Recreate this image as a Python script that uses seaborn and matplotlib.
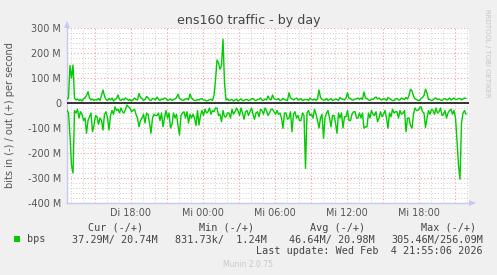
import numpy as np
import pandas as pd
import matplotlib
matplotlib.use("Agg")
import matplotlib.pyplot as plt
import seaborn as sns
from matplotlib.patches import Rectangle, Polygon

sns.set_theme(style="white")
plt.rcParams['font.family'] = ['DejaVu Sans']

# ---------------- data ----------------
title = "ens160 traffic - by day"
ylabel = "bits in (-) / out (+) per second"
series_name = "bps"
start_hour = -11.333          # hours relative to Wed 00:00 (Tue 12:40)
step_hours = 0.125            # 7.5-minute samples
end_hour = 22.167

out_mbps = [16, 20, 150, 100, 152, 20, 12, 16, 10, 14, 8, 16, 22, 30, 45, 20, 12, 16, 10, 14,
            12, 18, 10, 30, 52, 28, 14, 10, 18, 12, 20, 8, 14, 18, 32, 14, 10, 16, 12, 20,
            16, 10, 14, 8, 12, 20, 14, 12, 38, 22, 18, 10, 14, 26, 22, 12, 10, 18, 16, 12,
            24, 14, 10, 16, 14, 20, 18, 10, 12, 16, 10, 14, 16, 22, 35, 18, 14, 10, 12, 16,
            18, 12, 36, 20, 14, 10, 10, 14, 12, 16, 18, 12, 12, 8, 10, 14, 14, 10, 30, 90,
            172, 160, 135, 150, 255, 80, 12, 16, 10, 12, 14, 8, 12, 16, 8, 12, 16, 10, 10, 14,
            14, 10, 12, 16, 18, 12, 10, 14, 14, 20, 12, 10, 16, 12, 28, 16, 12, 32, 18, 14,
            14, 18, 10, 12, 18, 14, 12, 10, 41, 20, 16, 12, 16, 20, 12, 14, 18, 10, 12, 14,
            14, 10, 20, 14, 12, 16, 10, 16, 52, 22, 14, 12, 12, 18, 10, 14, 18, 10, 12, 16,
            14, 10, 22, 16, 16, 12, 20, 41, 18, 18, 12, 12, 16, 16, 20, 14, 20, 14, 44, 20,
            18, 12, 10, 16, 14, 20, 24, 16, 20, 14, 12, 18, 16, 10, 22, 18, 14, 10, 10, 16,
            18, 12, 12, 20, 16, 14, 22, 16, 30, 55, 48, 28, 16, 14, 10, 10, 18, 22, 30, 55,
            40, 14, 14, 10, 12, 18, 20, 14, 16, 12, 10, 16, 18, 12, 14, 20, 12, 16, 20, 14,
            14, 18, 18, 12, 16, 20, 18]

in_mbps = [28, 40, 130, 250, 280, 30, 40, 25, 60, 35, 45, 70, 60, 121, 70, 55, 40, 115, 90, 50,
           55, 85, 60, 70, 108, 45, 35, 60, 108, 50, 30, 45, 15, 30, 25, 40, 20, 35, 40, 25,
           8, 15, 20, 35, 30, 25, 45, 60, 95, 70, 60, 45, 80, 40, 45, 80, 121, 60, 45, 50,
           50, 40, 70, 40, 95, 60, 30, 60, 40, 100, 85, 40, 60, 45, 90, 128, 50, 40, 35, 60,
           35, 80, 45, 60, 45, 60, 90, 30, 88, 50, 30, 50, 25, 40, 35, 20, 45, 30, 35, 20,
           20, 50, 45, 75, 30, 55, 55, 40, 40, 60, 25, 45, 35, 20, 30, 50, 20, 40, 65, 35,
           30, 50, 35, 20, 45, 65, 40, 35, 55, 25, 30, 45, 20, 30, 50, 40, 25, 25, 35, 45,
           30, 45, 40, 60, 101, 40, 40, 65, 60, 35, 115, 45, 35, 60, 50, 70, 70, 40, 50, 261,
           40, 30, 50, 45, 60, 25, 45, 70, 100, 60, 45, 141, 60, 40, 30, 60, 95, 50, 50, 80,
           121, 40, 60, 40, 100, 55, 55, 30, 70, 70, 45, 35, 35, 60, 60, 40, 60, 40, 101, 95,
           95, 40, 60, 30, 45, 50, 35, 75, 60, 35, 55, 45, 30, 60, 101, 40, 55, 25, 40, 35,
           35, 60, 30, 45, 40, 30, 115, 60, 60, 90, 101, 45, 20, 30, 30, 20, 15, 35, 40, 98,
           60, 30, 45, 25, 30, 45, 20, 40, 35, 20, 50, 45, 30, 60, 40, 30, 25, 45, 30, 60,
           150, 250, 305, 80, 40, 30, 45]

ytick_values = [300, 200, 100, 0, -100, -200, -300, -400]
ytick_labels = ["300 M", "200 M", "100 M", "0", "-100 M", "-200 M", "-300 M", "-400 M"]
xtick_hours = [-6, 0, 6, 12, 18]
xtick_labels = ["Di 18:00", "Mi 00:00", "Mi 06:00", "Mi 12:00", "Mi 18:00"]

legend_headers = ["Cur (-/+)", "Min (-/+)", "Avg (-/+)", "Max (-/+)"]
legend_values = ["37.29M/ 20.74M", "831.73k/  1.24M", "46.64M/ 20.98M", "305.46M/256.09M"]
last_update = "Last update: Wed Feb  4 21:55:06 2026"
watermark = "RRDTOOL / TOBI OETIKER"
footer = "Munin 2.0.75"

# ---------------- figure ----------------
W, H = 497, 275
GREEN = "#00CC00"
fig = plt.figure(figsize=(W / 100, H / 100), dpi=100, facecolor="#F0F0F0")


def fx(px):
    return px / W


def fy(py):
    return 1 - py / H


ax = fig.add_axes([fx(67), fy(203), (469 - 67) / W, (203 - 28) / H])
ax.set_facecolor("white")

n = len(out_mbps)
hours = start_hour + step_hours * np.arange(n)
df = pd.DataFrame({"hour": hours,
                   "out": np.array(out_mbps, dtype=float),
                   "in": -np.array(in_mbps, dtype=float)})

sns.lineplot(data=df, x="hour", y="out", color=GREEN, linewidth=1.0, ax=ax, zorder=4)
sns.lineplot(data=df, x="hour", y="in", color=GREEN, linewidth=1.0, ax=ax, zorder=4)
ax.axhline(0, color="black", linewidth=1.1, zorder=5)

ax.set_xlim(start_hour, end_hour)
ax.set_ylim(-400, 300)

# ticks & grid
major_x = np.arange(-9, 22, 3)
ax.set_xticks(major_x)
ax.set_xticklabels([xtick_labels[xtick_hours.index(h)] if h in xtick_hours else "" for h in major_x])
ax.set_xticks(np.arange(-11, 23, 1), minor=True)
ax.set_yticks(ytick_values)
ax.set_yticklabels(ytick_labels)
ax.set_yticks(np.arange(-400, 301, 20), minor=True)

ax.set_axisbelow(True)
ax.grid(which="minor", color="#d0d0d0", linestyle=(0, (1, 2)), linewidth=0.7)
ax.grid(which="major", color="#f0a0a0", linestyle=(0, (1, 2)), linewidth=0.8)

ax.tick_params(axis="both", which="both", length=0)
ax.tick_params(axis="y", labelsize=6.9, labelcolor="#555555", pad=4.3)
ax.tick_params(axis="x", labelsize=6.9, labelcolor="#555555", pad=3.4)
ax.set_xlabel("")
ax.set_ylabel("")

for s in ["top", "right"]:
    ax.spines[s].set_visible(False)
for s in ["left", "bottom"]:
    ax.spines[s].set_color("#c8c8f0")
    ax.spines[s].set_linewidth(1.0)

# axis arrows
fig.patches.append(Polygon([(fx(64), fy(28)), (fx(70), fy(28)), (fx(67), fy(21))],
                           closed=True, facecolor="#c8c8f0", edgecolor="none",
                           transform=fig.transFigure, figure=fig))
fig.patches.append(Polygon([(fx(469), fy(200)), (fx(469), fy(206)), (fx(476), fy(203))],
                           closed=True, facecolor="#c8c8f0", edgecolor="none",
                           transform=fig.transFigure, figure=fig))

# texts
fig.text(fx(248.5), fy(24), title, ha="center", va="baseline", fontsize=9.1, color="#444444")
fig.text(fx(10), fy(115.5), ylabel, rotation=90, ha="center", va="center",
         fontsize=7.0, color="#555555")
fig.text(fx(487.5), fy(53), watermark, rotation=270, ha="center", va="center",
         fontsize=5.0, color="#c4c4c4")

mono = "DejaVu Sans Mono"
header_centers = [116, 227, 338, 449]
for hdr, cx in zip(legend_headers, header_centers):
    fig.text(fx(cx), fy(228), hdr, ha="center", va="center", fontsize=7.3,
             family=mono, color="#444444")

fig.patches.append(Rectangle((fx(14), fy(242.3)), 6 / W, 6 / H, facecolor=GREEN,
                             edgecolor="none", transform=fig.transFigure, figure=fig))
fig.text(fx(27), fy(239.5), series_name, ha="left", va="center", fontsize=7.3,
         family=mono, color="#444444")
value_rights = [158, 267, 375, 483]
for val, rx in zip(legend_values, value_rights):
    fig.text(fx(rx), fy(239.5), val, ha="right", va="center", fontsize=7.3,
             family=mono, color="#444444")
fig.text(fx(483), fy(251.5), last_update, ha="right", va="center", fontsize=7.3,
         family=mono, color="#444444")
fig.text(fx(248), fy(264.5), footer, ha="center", va="center", fontsize=5.5,
         color="#c8c8c8")

fig.savefig("out.png", dpi=100, facecolor=fig.get_facecolor())
